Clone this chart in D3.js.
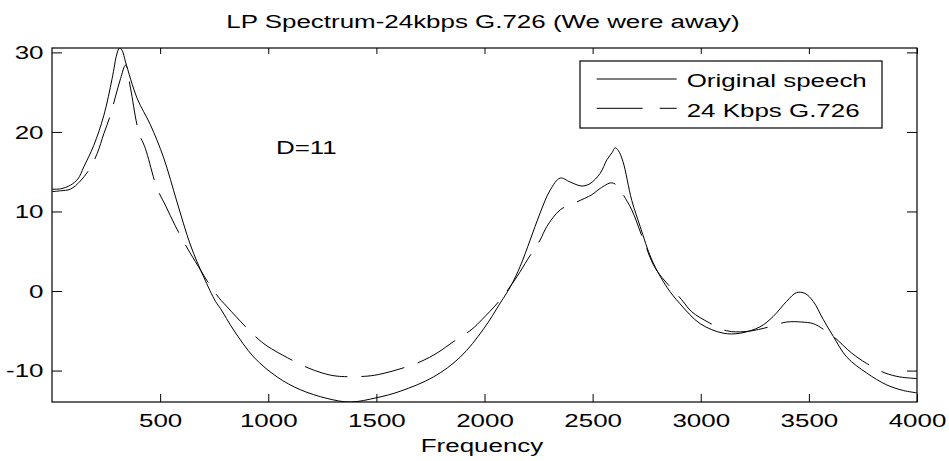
<!DOCTYPE html>
<html>
<head>
<meta charset="utf-8">
<script src="https://cdn.jsdelivr.net/npm/d3@7"></script>
<style>
    body { margin: 0; background: #fff; }
    text { font-family: "Liberation Sans", Arial, Helvetica, sans-serif; font-size: 18px; fill: #000; }
    .line { fill: none; stroke: #000; stroke-width: 1px; }
</style>
</head>
<body>
<div id="spectrum-chart"></div>
<script>
// values (frequency in Hz, level in dB)
let origFreq  = [0, 40, 85, 120, 147, 193, 240, 278, 300, 312, 325, 340, 394, 455, 517, 578, 640, 701, 756, 779,
    840, 933, 1041, 1148, 1272, 1379, 1503, 1610, 1764, 1888, 1995, 2073, 2119, 2165, 2211, 2257, 2304, 2350, 2396,
    2450, 2488, 2535, 2566, 2590, 2604, 2618, 2640, 2681, 2720, 2774, 2843, 2904, 2997, 3104, 3182, 3274, 3335, 3397,
    3443, 3482, 3520, 3567, 3613, 3675, 3767, 3860, 3936, 4000];
let origLevel = [12.8, 12.85, 13.3, 14.1, 15.6, 18.3, 22.1, 26.7, 29.8, 30.55, 30.2, 28.8, 24.2, 20.9, 16.7, 11.2, 5.8, 1.8, -1.3, -2.2,
    -4.9, -8.3, -10.8, -12.4, -13.5, -13.95, -13.4, -12.6, -10.8, -8.3, -4.8, -1.5, 0.5, 3.1, 6.4, 9.8, 12.7, 14.2, 13.7,
    13.2, 13.5, 14.8, 16.5, 17.4, 18.0, 17.7, 16.3, 11.4, 8.1, 3.9, 0.5, -1.6, -4.1, -5.3, -5.3, -4.5, -3.2, -1.3,
    -0.2, -0.3, -1.3, -3.6, -5.7, -8.3, -10.3, -11.8, -12.5, -12.8];

let codedFreq  = [0, 40, 85, 130, 175, 209, 240, 270, 293, 317, 340, 363, 401, 432, 486, 524, 570, 617, 663, 756,
    810, 940, 994, 1090, 1179, 1249, 1318, 1457, 1526, 1620, 1711, 1780, 1860, 1942, 1988, 2073, 2150, 2200, 2257,
    2288, 2350, 2427, 2496, 2535, 2589, 2627, 2642, 2681, 2735, 2781, 2812, 2912, 2958, 3040, 3120, 3205, 3289, 3397,
    3467, 3520, 3567, 3613, 3698, 3767, 3852, 3921, 4000];
let codedLevel = [12.5, 12.6, 12.8, 13.8, 15.4, 17.3, 19.8, 22.1, 24.4, 26.7, 28.4, 25.5, 20.0, 17.9, 12.9, 10.8, 8.2, 5.8, 3.7, -0.3,
    -2.0, -5.7, -6.9, -8.4, -9.6, -10.3, -10.7, -10.7, -10.4, -9.7, -8.8, -7.8, -6.3, -4.8, -3.6, -1.1, 1.8, 4.0, 6.4,
    8.1, 10.2, 11.2, 12.1, 12.9, 13.6, 12.9, 12.1, 10.2, 6.4, 3.3, 2.0, -1.1, -2.6, -4.0, -5.0, -5.1, -4.7, -3.9,
    -3.9, -4.1, -4.8, -5.7, -7.8, -9.1, -10.3, -10.8, -11.0];

let xTicks = [500, 1000, 1500, 2000, 2500, 3000, 3500, 4000];
let yTicks = [-10, 0, 10, 20, 30];
let seriesNames = ["Original speech", "24 Kbps G.726"];

let chartTitle = "LP Spectrum-24kbps G.726 (We were away)";
let xLabel = "Frequency";
let note = "D=11";

// the picture is stretched sideways, so text is widened the same way
let stretch = 1.44;

let margin = {top: 48, right: 32, bottom: 59, left: 52};
let width = 949 - margin.left - margin.right;
let height = 461 - margin.top - margin.bottom;

let svg = d3.select("#spectrum-chart").append("svg")
    .attr("width", width + margin.left + margin.right)
    .attr("height", height + margin.top + margin.bottom)
    .append("g")
    .attr("transform", "translate(" + margin.left + "," + margin.top + ")");

function widen(sel) {
    sel.each(function () {
        let w = this.getComputedTextLength();
        d3.select(this).attr("textLength", w * stretch).attr("lengthAdjust", "spacingAndGlyphs");
    });
}

// Scales
let x = d3.scaleLinear().domain([0, 4000]).range([0, width]);
let y = d3.scaleLinear().domain([-13.95, 30.55]).range([height, 0]);

// plain numbers, hyphen minus like matlab
let plain = d => String(d);

// Axes (matlab style: ticks point inwards, box all round)
let xAxis = d3.axisBottom(x).tickValues(xTicks).tickFormat(plain).tickSize(-8).tickPadding(16).tickSizeOuter(0);
let yAxis = d3.axisLeft(y).tickValues(yTicks).tickFormat(plain).tickSize(-10).tickPadding(18).tickSizeOuter(0);
let xTop = d3.axisTop(x).tickValues(xTicks).tickSize(-6).tickFormat("").tickSizeOuter(0);
let yRight = d3.axisRight(y).tickValues(yTicks).tickSize(-10).tickFormat("").tickSizeOuter(0);

let xGroup = svg.append("g").attr("transform", "translate(0," + height + ")").call(xAxis);
let yGroup = svg.append("g").call(yAxis);
svg.append("g").call(xTop);
svg.append("g").attr("transform", "translate(" + width + ",0)").call(yRight);

svg.selectAll(".domain").remove();
svg.selectAll(".tick line").attr("stroke", "#000");

xGroup.selectAll("text").attr("font-size", null).attr("font-family", null).attr("dy", null).attr("y", 24.7);
yGroup.selectAll("text").attr("font-size", null).attr("font-family", null).attr("dy", "0.35em").attr("x", -8.5);
widen(xGroup.selectAll("text"));
widen(yGroup.selectAll("text"));

svg.append("rect")
    .attr("width", width)
    .attr("height", height)
    .attr("fill", "none")
    .attr("stroke", "#000")
    .attr("stroke-width", 1.2);

// Lines
svg.append("clipPath").attr("id", "plot-clip")
    .append("rect").attr("width", width).attr("height", height);

let line = d3.line()
    .x(d => x(d[0]))
    .y(d => y(d[1]))
    .curve(d3.curveCatmullRom.alpha(0.5));

let origData = origFreq.map((f, i) => [f, origLevel[i]]);
let codedData = codedFreq.map((f, i) => [f, codedLevel[i]]);

svg.append("path")
    .attr("class", "line")
    .attr("clip-path", "url(#plot-clip)")
    .attr("d", line(origData));

svg.append("path")
    .attr("class", "line")
    .attr("clip-path", "url(#plot-clip)")
    .attr("stroke-dasharray", "44,14")
    .attr("d", line(codedData));

// Title, label, annotation
let title = svg.append("text")
    .attr("x", width / 2 - 1.5)
    .attr("y", 28.3 - margin.top)
    .attr("text-anchor", "middle")
    .text(chartTitle);
widen(title);

let xLab = svg.append("text")
    .attr("x", width / 2 - 2.5)
    .attr("y", 451.7 - margin.top)
    .attr("text-anchor", "middle")
    .text(xLabel);
widen(xLab);

let noteText = svg.append("text")
    .attr("x", 276 - margin.left)
    .attr("y", 154 - margin.top)
    .text(note);
widen(noteText);

// Legend
let legend = svg.append("g")
    .attr("transform", "translate(" + (580 - margin.left) + "," + (61 - margin.top) + ")");

legend.append("rect")
    .attr("width", 302)
    .attr("height", 67)
    .attr("fill", "#fff")
    .attr("stroke", "#000")
    .attr("stroke-width", 1.2);

seriesNames.forEach(function (name, i) {
    let rowY = 18 + i * 29.3;
    legend.append("line")
        .attr("class", "line")
        .attr("x1", 16.7).attr("x2", 96.7)
        .attr("y1", rowY).attr("y2", rowY)
        .attr("stroke-dasharray", i === 0 ? null : "46,17");
    let t = legend.append("text")
        .attr("x", 106.7)
        .attr("y", rowY + 8.3)
        .text(name);
    widen(t);
});
</script>
</body>
</html>
